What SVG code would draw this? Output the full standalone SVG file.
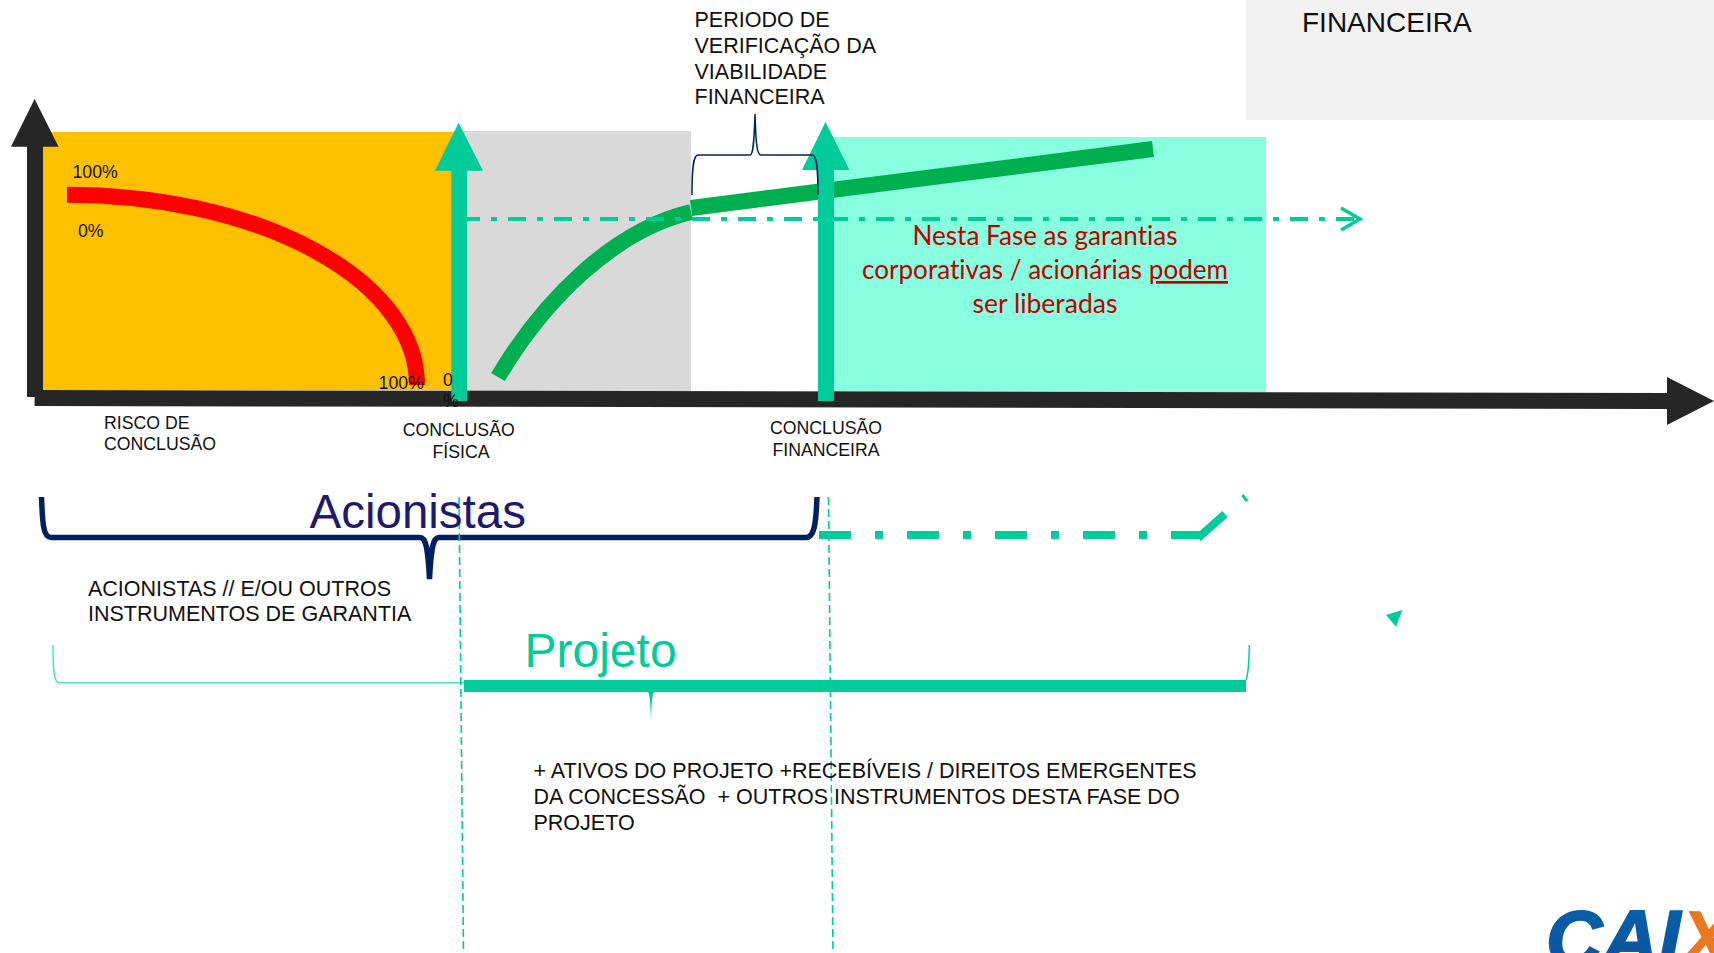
<svg xmlns="http://www.w3.org/2000/svg" width="1714" height="953" viewBox="0 0 1714 953">
<style>
text{font-family:"Liberation Sans",Arial,sans-serif;fill:#111}
.s18{font-size:17.7px}
.s22{font-size:21.5px}
.mid{text-anchor:middle}
.red{font-family:Lato,"Open Sans",sans-serif;font-size:27px;fill:#C00000;text-anchor:middle;font-variant-ligatures:none}
.gf{fill:#00CC99}
.ax{fill:#262626}
.vd{fill:none;stroke:#00CC99;stroke-width:1.6;stroke-dasharray:8 4}
</style>
<defs>
<linearGradient id="lb" x1="0" y1="0" x2="0" y2="1"><stop offset="0" stop-color="#0B63B0"/><stop offset="1" stop-color="#0A4E96"/></linearGradient>
<linearGradient id="lx" x1="0" y1="0" x2="1" y2="1"><stop offset="0.42" stop-color="#0B63B0"/><stop offset="0.5" stop-color="#E9781E"/></linearGradient>
</defs>
<g id="bg-financeira"><rect x="1246" y="0" width="468" height="120" fill="#F2F2F2"/><text x="1302" y="32" font-size="28">FINANCEIRA</text></g>
<g id="phase-risk"><rect x="43" y="132" width="410" height="258" fill="#FFC000"/></g>
<g id="phase-verify"><rect x="453" y="131" width="238" height="260" fill="#D9D9D9"/></g>
<g id="phase-free"><rect x="829" y="137" width="437" height="255" fill="#88FFDF"/></g>
<g id="connectors">
<path d="M67,194.7 A350,190 0 0 1 417,385" fill="none" stroke="#FF0000" stroke-width="16"/>
<path d="M498,377 C545,298 615,230 691,212" fill="none" stroke="#00B050" stroke-width="16"/>
<path d="M691,208 L1153,149" fill="none" stroke="#00B050" stroke-width="16"/>
<path d="M467,219 H1358" fill="none" stroke="#00CC99" stroke-width="4" stroke-dasharray="18 11 6 11" stroke-dashoffset="5"/>
<path d="M1341,208 L1360,219 L1341,230" fill="none" stroke="#00CC99" stroke-width="3.5"/>
<path class="ax" d="M27,397 V146.7 H11 L34.6,99 L58.6,146.7 H43 V390 L1667,393 V377 L1714,401 L1667,425 V409 L34.6,406 V397 Z"/>
<path class="gf" d="M451.4,401 V170.7 H435 L458.6,122.7 L483,170.7 H467 V401 Z"/>
<path class="gf" d="M818,401 V170 H802 L825.5,122 L849.5,170 H834 V401 Z"/>
<path d="M692,195 C692,170 693,155 698,155 H750 C753,155 754,145 755,114 C756,145 757,155 761,155 H812 C817,155 818,170 818,195" fill="none" stroke="#002060" stroke-width="1.5"/>
<path d="M41.5,497 C42.5,525 43.5,537.5 51,537.5 H420 C426,537.5 428,548 429.5,579 C431,548 433,537.5 439,537.5 H806 C814,537.5 816,525 817,497" fill="none" stroke="#002060" stroke-width="5.5"/>
<path d="M819,535 H1200" fill="none" stroke="#00CC99" stroke-width="8" stroke-dasharray="32 24 8 24"/>
<path d="M1198,538 L1225,514" fill="none" stroke="#00CC99" stroke-width="8"/>
<path d="M1242.4,495 L1247,501" fill="none" stroke="#00CC99" stroke-width="3"/>
<path d="M1386,615 L1402.4,610 L1396,626.7 Z" class="gf"/>
<path d="M53,645 C53,670 54,682.7 59,682.7 H464" fill="none" stroke="#4FE0BB" stroke-width="1.5"/>
<rect x="464" y="680" width="782" height="12" class="gf"/>
<path d="M1246,680 C1248,675 1249,665 1249.4,645" fill="none" stroke="#00CC99" stroke-width="1.5"/>
<path d="M648,692 H654 C651.8,695 651.4,708 651,721 C650.6,708 650.2,695 648,692 Z" class="gf"/>
<path class="vd" d="M459,497 L463.5,953"/>
<path class="vd" d="M828.5,497 L833,953"/>
</g>
<g id="labels">
<text class="s22" x="694.5" y="27">PERIODO DE</text>
<text class="s22" x="694.5" y="53">VERIFICAÇÃO DA</text>
<text class="s22" x="694.5" y="79">VIABILIDADE</text>
<text class="s22" x="694.5" y="104">FINANCEIRA</text>
<text class="s18" x="72.5" y="178">100%</text>
<text class="s18" x="78" y="237">0%</text>
<text class="s18" x="378.6" y="389">100%</text>
<text class="s18" x="443" y="386">0</text>
<text class="s18" x="443" y="407">%</text>
<text class="s18" x="104" y="429">RISCO DE</text>
<text class="s18" x="104" y="450">CONCLUSÃO</text>
<text class="s18 mid" x="458.7" y="436">CONCLUSÃO</text>
<text class="s18 mid" x="461" y="458">FÍSICA</text>
<text class="s18 mid" x="826" y="434">CONCLUSÃO</text>
<text class="s18 mid" x="826" y="456">FINANCEIRA</text>
<text class="red" x="1045" y="245" textLength="265" lengthAdjust="spacingAndGlyphs">Nesta Fase as garantias</text>
<text class="red" x="1045" y="279" textLength="366" lengthAdjust="spacingAndGlyphs">corporativas / acionárias <tspan text-decoration="underline">podem</tspan></text>
<text class="red" x="1045" y="313" textLength="145" lengthAdjust="spacingAndGlyphs">ser liberadas</text>
<text x="309.5" y="528" font-size="47.5" style="fill:#1F1A6E">Acionistas</text>
<text class="s22" x="88" y="596">ACIONISTAS // E/OU OUTROS</text>
<text class="s22" x="88" y="621">INSTRUMENTOS DE GARANTIA</text>
<text x="524.5" y="667" font-size="48" style="fill:#00CC99">Projeto</text>
<text class="s22" x="533.5" y="778">+ ATIVOS DO PROJETO +RECEBÍVEIS / DIREITOS EMERGENTES</text>
<text class="s22" x="533.5" y="804">DA CONCESSÃO &#160;+ OUTROS INSTRUMENTOS DESTA FASE DO</text>
<text class="s22" x="533.5" y="830">PROJETO</text>
</g>
<g id="logo"><text x="1546" y="965" font-size="78" font-weight="bold" font-style="italic" stroke="#0B5BA6" stroke-width="2" style="fill:url(#lb)">CAI<tspan stroke="none" style="fill:url(#lx)">X</tspan></text></g>
</svg>
